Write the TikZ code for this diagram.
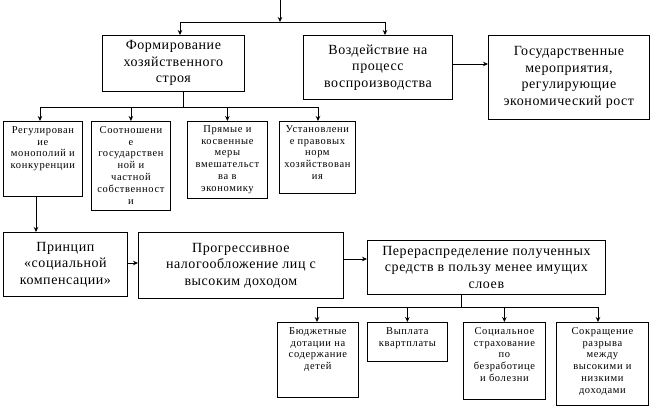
\documentclass[tikz,border=0pt]{standalone}
\usepackage{fontspec}
\setmainfont{Liberation Serif}[LetterSpace=4]
\usetikzlibrary{arrows.meta}
\begin{document}
\begin{tikzpicture}[x=1pt,y=-1pt, line width=0.8pt,
  box/.style={draw, rectangle, inner sep=0pt, anchor=north west},
  big/.style={font=\fontsize{14}{16.5}\selectfont, align=center},
  small/.style={font=\fontsize{10.5}{11.8}\selectfont\addfontfeature{LetterSpace=6}, align=center, anchor=north, inner sep=0pt},
  arr/.style={-{Stealth[length=5pt,width=4.5pt]}}]
\useasboundingbox (0,0) rectangle (658,407);

% top level
\node[box, big, minimum width=142pt, minimum height=56pt] (F) at (102,35) {Формирование\\хозяйственного\\строя};
\node[box, big, minimum width=149pt, minimum height=64pt] (V) at (303,35) {Воздействие на\\процесс\\воспроизводства};
\node[box, big, minimum width=161pt, minimum height=84pt] (G) at (488,35) {Государственные\\мероприятия,\\регулирующие\\экономический рост};

% second level
\node[box, minimum width=79pt, minimum height=75pt] (b1) at (3,121) {};
\node[box, minimum width=79pt, minimum height=89pt] (b2) at (91,121) {};
\node[box, minimum width=80pt, minimum height=77pt] (b3) at (187,121) {};
\node[box, minimum width=76pt, minimum height=72pt] (b4) at (279,121) {};
\node[small] (b1t) at ([yshift=-5pt]b1.north) {Регулирован\\ие\\монополий и\\конкуренции};
\node[small] (b2t) at ([yshift=-5pt]b2.north) {Соотношени\\е\\государствен\\ной и\\частной\\собственност\\и};
\node[small] (b3t) at ([yshift=-4pt]b3.north) {Прямые и\\косвенные\\меры\\вмешательст\\ва в\\экономику};
\node[small] (b4t) at ([yshift=-4pt]b4.north) {Установлени\\е правовых\\норм\\хозяйствован\\ия};

% third level
\node[box, big, minimum width=124pt, minimum height=64pt] (P) at (3,232) {Принцип\\«социальной\\компенсации»};
\node[box, big, minimum width=205pt, minimum height=66pt] (N) at (138,232) {Прогрессивное\\налогообложение лиц с\\высоким доходом};
\node[box, big, minimum width=238pt, minimum height=54pt] (R) at (367,240) {Перераспределение полученных\\средств в пользу менее имущих\\слоев};

% fourth level
\node[box, minimum width=81pt, minimum height=75pt] (c1) at (277,322) {};
\node[box, minimum width=80pt, minimum height=39pt] (c2) at (367,322) {};
\node[box, minimum width=82pt, minimum height=77pt] (c3) at (463,322) {};
\node[box, minimum width=92pt, minimum height=83pt] (c4) at (556,322) {};
\node[small] (c1t) at ([yshift=-5pt]c1.north) {Бюджетные\\дотации на\\содержание\\детей};
\node[small] (c2t) at ([yshift=-5pt]c2.north) {Выплата\\квартплаты};
\node[small] (c3t) at ([yshift=-5pt]c3.north) {Социальное\\страхование\\по\\безработице\\и болезни};
\node[small] (c4t) at ([yshift=-5pt]c4.north) {Сокращение\\разрыва\\между\\высокими и\\низкими\\доходами};

% connectors: top
\coordinate (top) at (280,0);
\coordinate (j1) at (280,22);
\coordinate (h1l) at (180,22);
\coordinate (h1r) at (385,22);
\draw[arr] (top) -- (j1);
\draw (h1l) -- (h1r);
\draw[arr] (h1l) -- (h1l |- F.north);
\draw[arr] (h1r) -- (h1r |- V.north);

% V -> G
\coordinate (vg) at (0,64);
\draw[arr] (V.east |- vg) -- (G.west |- vg);

% F -> second level
\coordinate (fd) at (183,107);
\coordinate (hl2) at (40,107);
\coordinate (hr2) at (318,107);
\draw (fd |- F.south) -- (fd);
\draw (hl2) -- (hr2);
\draw[arr] (hl2) -- (hl2 |- b1.north);
\draw[arr] (b2.north |- hl2) -- (b2.north);
\draw[arr] (b3.north |- hl2) -- (b3.north);
\draw[arr] (hr2) -- (hr2 |- b4.north);

% b1 -> P
\coordinate (pd) at (36,0);
\draw[arr] (pd |- b1.south) -- (pd |- P.north);

% P -> N -> R
\coordinate (pn) at (0,263);
\coordinate (nr) at (0,259);
\draw[arr] (P.east |- pn) -- (N.west |- pn);
\draw[arr] (N.east |- nr) -- (R.west |- nr);

% R -> fourth level
\coordinate (rd) at (461,307);
\coordinate (hl4) at (317,307);
\coordinate (hr4) at (598,307);
\draw (rd |- R.south) -- (rd);
\draw (hl4) -- (hr4);
\draw[arr] (hl4) -- (hl4 |- c1.north);
\draw[arr] (c2.north |- hl4) -- (c2.north);
\draw[arr] (c3.north |- hl4) -- (c3.north);
\draw[arr] (hr4) -- (hr4 |- c4.north);
\end{tikzpicture}
\end{document}
